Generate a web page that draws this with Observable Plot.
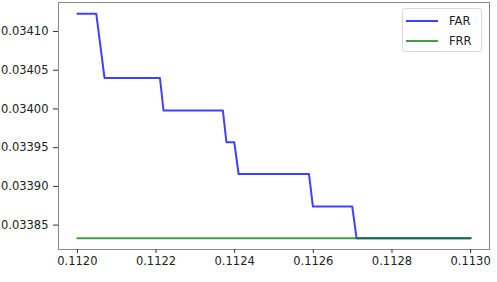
<!DOCTYPE html>
<html>
<head>
<meta charset="utf-8">
<script src="https://cdn.jsdelivr.net/npm/d3@7"></script>
<script src="https://cdn.jsdelivr.net/npm/@observablehq/plot@0.6"></script>
<style>
  html, body { margin: 0; padding: 0; background: #fff; }
  #wrap { position: relative; width: 497px; height: 282px; overflow: hidden; font-family: "DejaVu Sans", sans-serif; }
  #legend { position: absolute; left: 402px; top: 8px; width: 78px; height: 42px; border: 1px solid #d8d8d8; border-radius: 3px; background: rgba(255,255,255,0.8); font-size: 11.5px; color: #222; }
  .item { position: absolute; left: 3px; height: 14px; display: flex; align-items: center; }
  .sw { width: 32px; height: 2px; margin-right: 11px; }
</style>
</head>
<body>
<div id="wrap"></div>
<script>
const threshold = [0.11200, 0.112048, 0.112069, 0.112210, 0.112219, 0.112370, 0.112379, 0.112399, 0.112410, 0.112589, 0.112599, 0.112699, 0.112710, 0.11300];
const far       = [0.034123, 0.034123, 0.034040, 0.034040, 0.033998, 0.033998, 0.033957, 0.033957, 0.033916, 0.033916, 0.033874, 0.033874, 0.033833, 0.033833];
const frrThreshold = [0.11200, 0.11300];
const frr          = [0.033833, 0.033833];
const xTicks = [0.1120, 0.1122, 0.1124, 0.1126, 0.1128, 0.1130];
const yTicks = [0.03385, 0.03390, 0.03395, 0.03400, 0.03405, 0.03410];
const seriesNames = ["FAR", "FRR"];
const seriesColors = ["#0000ff", "#008000"];

const farData = threshold.map((t, i) => ({t, v: far[i]}));
const frrData = frrThreshold.map((t, i) => ({t, v: frr[i]}));

const chart = Plot.plot({
  width: 497,
  height: 282,
  marginLeft: 58,
  marginRight: 8,
  marginTop: 2,
  marginBottom: 33,
  style: {fontFamily: "DejaVu Sans, sans-serif", fontSize: "11.5px", color: "#222", background: "#fff"},
  x: {domain: [0.111952, 0.113048]},
  y: {domain: [0.0338185, 0.0341375]},
  marks: [
    Plot.frame({stroke: "#888", strokeWidth: 1}),
    Plot.axisX({ticks: xTicks, tickFormat: d3.format(".4f"), tickSize: 4, tickPadding: 3, label: null, stroke: "#333", color: "#222"}),
    Plot.axisY({ticks: yTicks, tickFormat: d3.format(".5f"), tickSize: 5, tickPadding: 5, label: null, stroke: "#333", color: "#222"}),
    Plot.line(farData, {x: "t", y: "v", stroke: seriesColors[0], strokeOpacity: 0.75, strokeWidth: 2}),
    Plot.line(frrData, {x: "t", y: "v", stroke: seriesColors[1], strokeOpacity: 0.75, strokeWidth: 2})
  ]
});
const wrap = document.getElementById("wrap");
wrap.appendChild(chart);

const legend = document.createElement("div");
legend.id = "legend";
seriesNames.forEach((name, i) => {
  const item = document.createElement("div");
  item.className = "item";
  item.style.top = (5 + i * 20) + "px";
  const sw = document.createElement("span");
  sw.className = "sw";
  sw.style.background = seriesColors[i];
  sw.style.opacity = 0.75;
  const label = document.createElement("span");
  label.textContent = name;
  item.appendChild(sw);
  item.appendChild(label);
  legend.appendChild(item);
});
wrap.appendChild(legend);
</script>
</body>
</html>
